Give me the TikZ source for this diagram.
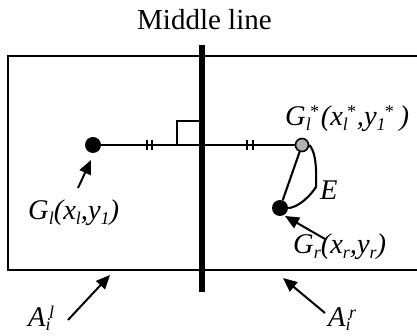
\documentclass[tikz,border=0pt]{standalone}
\usepackage{fontspec}
\setmainfont{Liberation Serif}
\usetikzlibrary{arrows.meta}
\newcommand{\scr}{\fontsize{18}{18}\selectfont}
\newcommand{\lsub}[1]{\raisebox{-5pt}{\scr #1}}
\newcommand{\lsubA}[1]{\raisebox{-3.5pt}{\scr #1}}
\newcommand{\lsup}[1]{\raisebox{8pt}{\scr #1}}
\newcommand{\lsupsub}[2]{\lsub{#2}\kern-1.5pt\lsup{#1}\kern1.5pt}
\newcommand{\lsupsubA}[2]{\lsubA{#2}\kern-1.5pt\lsup{#1}\kern1.5pt}
\tikzset{
  frame/.style={line width=2.4pt},
  midline/.style={line width=6.5pt},
  thin/.style={line width=2.1pt},
  lbl/.style={font=\fontsize{28.5}{30}\selectfont\itshape, inner sep=0pt, anchor=base west},
  ptr/.style={line width=2pt,-{Triangle[length=14pt,width=12pt]}},
  dot/.style={circle, fill=black, minimum size=16pt, inner sep=0pt},
  gdot/.style={circle, fill=gray!60, draw=black, line width=1.6pt, minimum size=13pt, inner sep=0pt}
}
\begin{document}
\begin{tikzpicture}[x=1pt,y=1pt]
\useasboundingbox (0,0) rectangle (417,336);
% frame
\draw[frame] (417,280) -- (8,280) -- (8,66) -- (417,66);
% middle line
\draw[midline] (202,291) -- (202,44);
\node[font=\fontsize{29}{31}\selectfont, inner sep=0pt, anchor=base west] (mid) at (137,306) {Middle line};
% right angle
\draw[thin] (177,191) -- (177,215) -- (202,215);
% dots
\node[dot] (gl) at (93,191) {};
\node[gdot] (gls) at (302,191) {};
\node[dot] (gr) at (280,128) {};
% horizontal line
\draw[thin] (gl) -- (gls);
% ticks
\foreach \x in {147,152,247,253} \draw[thin] (\x,186) -- (\x,196);
% segments to G_r
\draw[thin] (gls) -- (gr);
\coordinate (ecorner) at (316,149);
\draw[thin] (gls.east) .. controls (314,186) and (317,175) .. (ecorner) .. controls (306,134) and (294,128) .. (gr.east);
\node[lbl] (E) at (320,136) {E};
% labels
\node[lbl] (glslbl) at (285,210) {G\lsupsub{*}{l}\kern1pt(x\lsupsub{*}{l},y\lsupsub{*}{1}\kern5pt)};
\node[lbl] (gllbl) at (28,116) {G\lsub{l}(x\lsub{l},y\lsub{1})};
\node[lbl] (grlbl) at (293,82) {G\lsub{r}(x\lsub{r},y\lsub{r})};
\node[lbl] (ail) at (28,9) {A\lsupsubA{l}{i}};
\node[lbl] (air) at (328,9) {A\lsupsubA{r}{i}};
% arrows
\coordinate (glt) at (78,148);
\coordinate (glh) at (91,176);
\coordinate (grt) at (325,97);
\coordinate (grh) at (285,120);
\coordinate (ailt) at (68,16);
\coordinate (ailh) at (110,61);
\coordinate (airt) at (325,23);
\coordinate (airh) at (283,58);
\draw[ptr] (glt) -- (glh);
\draw[ptr] (grt) -- (grh);
\draw[ptr] (ailt) -- (ailh);
\draw[ptr] (airt) -- (airh);
\end{tikzpicture}
\end{document}
